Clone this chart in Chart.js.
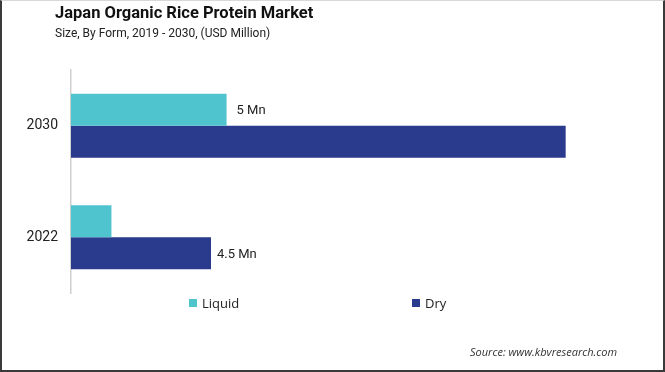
<!DOCTYPE html>
<html>
<head>
<meta charset="utf-8">
<script src="https://cdn.jsdelivr.net/npm/chart.js@4"></script>
<style>
  html, body { margin: 0; padding: 0; background: #fff; }
  .wrap { position: relative; width: 665px; height: 372px; overflow: hidden; }
  #chart { position: absolute; left: 0; top: 0; }
  .frame { position: absolute; inset: 0; box-sizing: border-box; border: 2px solid #3a3a3a; border-top: 1px solid #d8d8d8; pointer-events: none; }
  .title { position: absolute; left: 55px; top: 3px; font: bold 16.5px Roboto, sans-serif; color: #111; }
  .subtitle { position: absolute; left: 55px; top: 26px; font: 12px Roboto, sans-serif; color: #222; }
  .legend { position: absolute; top: 294px; left: 0; width: 665px; font: 13px "Open Sans", sans-serif; color: #222; }
  .legend .item { position: absolute; display: flex; align-items: center; }
  .legend .box { width: 8px; height: 8px; margin-right: 5px; }
  .source { position: absolute; left: 470px; top: 344px; font: italic 11px "Open Sans", sans-serif; color: #333; }
</style>
</head>
<body>
<div class="wrap">
  <canvas id="chart" width="665" height="372"></canvas>
  <div class="title">Japan Organic Rice Protein Market</div>
  <div class="subtitle">Size, By Form, 2019 - 2030, (USD Million)</div>
  <div class="legend" id="legend"></div>
  <div class="source">Source: www.kbvresearch.com</div>
  <div class="frame"></div>
</div>
<script>
const years = ['2030', '2022'];
const seriesNames = ['Liquid', 'Dry'];
const liquidValues = [5, 1.3];
const dryValues = [15.9, 4.5];
const liquidLabels = ['5 Mn', ''];
const dryLabels = ['', '4.5 Mn'];
const colors = ['#4fc3ce', '#2a3a8c'];

// labels at the end of the bars
const barLabels = {
  id: 'barLabels',
  afterDatasetsDraw(chart) {
    const ctx = chart.ctx;
    const all = [liquidLabels, dryLabels];
    const gaps = [10, 6];
    ctx.save();
    ctx.font = '13px Roboto, sans-serif';
    ctx.fillStyle = '#222';
    ctx.textBaseline = 'middle';
    chart.data.datasets.forEach((ds, i) => {
      chart.getDatasetMeta(i).data.forEach((bar, j) => {
        const txt = all[i][j];
        if (txt) ctx.fillText(txt, bar.x + gaps[i], bar.y + 1);
      });
    });
    ctx.restore();
  }
};

const chart = new Chart(document.getElementById('chart'), {
  type: 'bar',
  data: {
    labels: years,
    datasets: [
      { label: seriesNames[0], data: liquidValues, backgroundColor: colors[0] },
      { label: seriesNames[1], data: dryValues, backgroundColor: colors[1] }
    ]
  },
  options: {
    indexAxis: 'y',
    responsive: false,
    animation: false,
    layout: { padding: { top: 70, bottom: 79, right: 34, left: 0 } },
    datasets: { bar: { categoryPercentage: 0.575, barPercentage: 1, borderWidth: 0 } },
    scales: {
      x: { display: false, min: 0, max: 18 },
      y: {
        afterFit(scale) { scale.width = 71; },
        grid: { display: false },
        border: { display: true, color: '#cfcfcf', width: 1.5 },
        ticks: { padding: 5, color: '#222', font: { family: 'Roboto, sans-serif', size: 14 } }
      }
    },
    plugins: { legend: { display: false }, tooltip: { enabled: false } }
  },
  plugins: [barLabels]
});

// html legend built from the datasets
const legendX = [189, 412];
const legend = document.getElementById('legend');
chart.data.datasets.forEach((ds, i) => {
  const item = document.createElement('div');
  item.className = 'item';
  item.style.left = legendX[i] + 'px';
  item.innerHTML = `<span class="box" style="background:${ds.backgroundColor}"></span><span>${ds.label}</span>`;
  legend.appendChild(item);
});
</script>
</body>
</html>
